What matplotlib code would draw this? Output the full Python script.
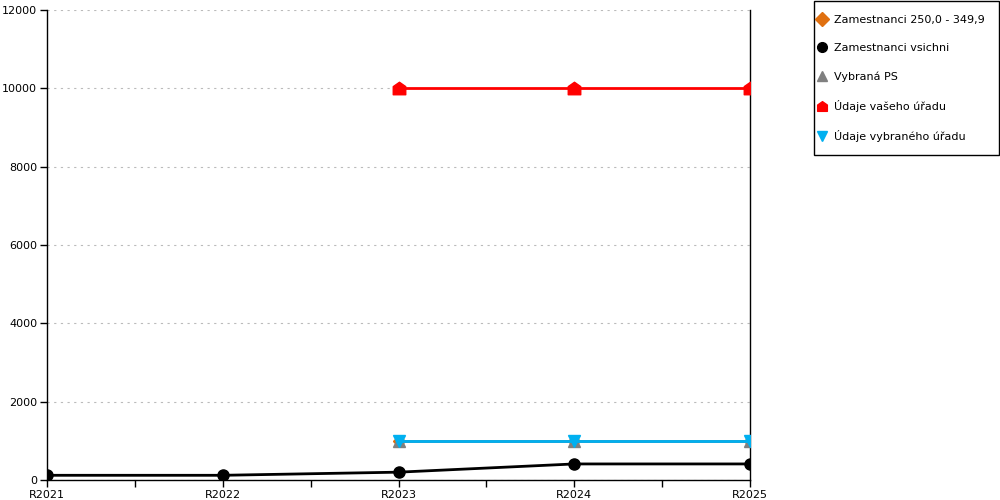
import numpy as np
import matplotlib.pyplot as plt
from matplotlib.path import Path
from matplotlib.patches import Rectangle

plt.rcParams['font.family'] = ['DejaVu Sans']

years = ["R2021", "R2022", "R2023", "R2024", "R2025"]
zam_250 = [np.nan, np.nan, 1000, 1000, 1000]
zam_all = [120, 120, 200, 410, 410]
vybrana_ps = [np.nan, np.nan, 1000, 1000, 1000]
vas_urad = [np.nan, np.nan, 10000, 10000, 10000]
vybrany_urad = [np.nan, np.nan, 1000, 1000, 1000]

# house-shaped marker
house = Path([(-1, -1), (1, -1), (1, 0.3), (0, 1), (-1, 0.3), (-1, -1)],
             [Path.MOVETO, Path.LINETO, Path.LINETO, Path.LINETO, Path.LINETO, Path.CLOSEPOLY])

fig = plt.figure(figsize=(10, 5), dpi=100)
ax = fig.add_axes([0.047, 0.04, 0.703, 0.94])
x = np.arange(len(years))

ax.plot(x, zam_250, color="#E07010", lw=2, marker="D", ms=6,
        label="Zamestnanci 250,0 - 349,9", zorder=3)
ax.plot(x, zam_all, color="black", lw=2, marker="o", ms=8,
        label="Zamestnanci vsichni", zorder=6)
ax.plot(x, vybrana_ps, color="gray", lw=2, marker="^", ms=8,
        label="Vybraná PS", zorder=4)
ax.plot(x, vas_urad, color="#FF0000", lw=2, marker=house, ms=9,
        label="Údaje vašeho úřadu", zorder=5)
ax.plot(x, vybrany_urad, color="#00B0F0", lw=2, marker="v", ms=8,
        label="Údaje vybraného úřadu", zorder=5)

ax.set_xlim(0, 4)
ax.set_ylim(0, 12000)
ax.set_xticks(x)
ax.set_xticklabels(years)
ax.set_xticks([0.5, 1.5, 2.5, 3.5], minor=True)
ax.set_yticks(np.arange(0, 12001, 2000))
ax.tick_params(axis="both", labelsize=8, length=5, width=1, pad=2)
ax.tick_params(axis="x", which="minor", length=5, width=1)
ax.grid(axis="y", linestyle=(0, (2, 4)), color="#BBBBBB", lw=0.8)
ax.spines["top"].set_visible(False)
for s in ["left", "bottom", "right"]:
    ax.spines[s].set_color("black")
    ax.spines[s].set_linewidth(1)

# legend box drawn separately
fig.patches.append(Rectangle((0.8135, 0.69), 0.1855, 0.309, transform=fig.transFigure,
                             fill=False, edgecolor="black", lw=1))
leg = fig.legend(loc="upper left", bbox_to_anchor=(0.8185, 0.970), fontsize=8,
                 frameon=False, handlelength=0.6, handletextpad=0.75,
                 labelspacing=1.62, borderpad=0, borderaxespad=0)
for h in leg.legend_handles:
    h.set_linestyle("none")
    h.set_markersize(7)

fig.savefig("out.png", dpi=100)
